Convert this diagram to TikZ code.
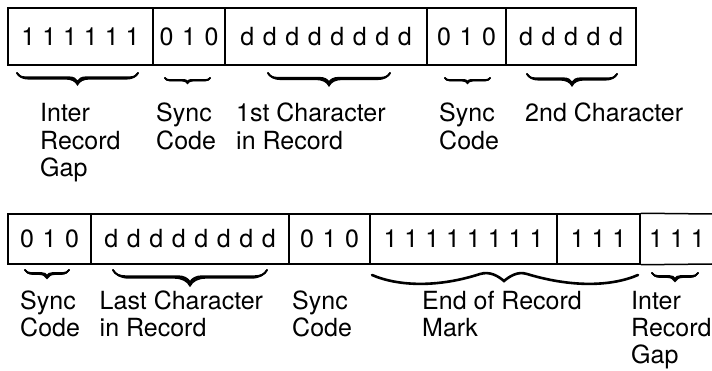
\documentclass[tikz,border=0pt]{standalone}
\usepackage{fontspec}
\setmainfont{TeX Gyre Heros}
\usetikzlibrary{decorations.pathreplacing}
\newcommand\lbl[1]{\begin{tabular}[t]{@{}l@{}}#1\end{tabular}}
\newcommand\widefont{\fontsize{25}{27.5}\selectfont\spaceskip=8.6pt\relax}
% brace from x1 to x2 at height y, amplitude a: three strokes give a heavy, tapered body
\newcommand\tbrace[5]{%
  \draw[brc={#4-#5}] (#2,#3) -- (#1,#3);
  \draw[brc={#4}] (#2,#3) -- (#1,#3);
  \draw[brc={#4+#5}] (#2,#3) -- (#1,#3);
}
\tikzset{
  cell/.style={draw, line width=1.5pt, inner sep=0pt, font=\fontsize{25}{27.5}\selectfont},
  wide/.style={font=\widefont},
  toprow/.style={cell, minimum height=57pt},
  botrow/.style={cell, minimum height=50pt},
  lab/.style={anchor=base west, inner sep=0pt, font=\fontsize{25}{27.5}\selectfont},
  brc/.style={decorate, decoration={brace, amplitude=#1}, line width=1.6pt, line cap=round},
  wavy/.style={line width=2.6pt, line cap=round},
  edge/.style={line width=1.5pt}
}
\begin{document}
\begin{tikzpicture}[x=1pt, y=-1pt]
\useasboundingbox (0,0) rectangle (712,371);
% top row
\node[toprow, minimum width=145pt] (t1) at (80.5,36.5) {1 1 1 1 1 1};
\node[toprow, wide, minimum width=72pt] (t2) at (189,36.5) {0 1 0};
\node[toprow, wide, minimum width=202pt] (t3) at (326,36.5) {d d d d d d d d};
\node[toprow, wide, minimum width=79pt] (t4) at (466.5,36.5) {0 1 0};
\node[toprow, wide, minimum width=130pt] (t5) at (571,36.5) {d d d d d};
% top braces
\tbrace{17}{138}{73}{10}{1.6}
\tbrace{165}{210}{78}{4.5}{0.8}
\tbrace{268}{390}{73}{11}{1.6}
\tbrace{445}{490}{78}{4.5}{0.8}
\tbrace{527}{617}{74}{10}{1.6}
% top labels
\node[lab] (l1) at (40,122) {\lbl{Inter\\Record\\Gap}};
\node[lab] (l2) at (156,122) {\lbl{Sync\\Code}};
\node[lab] (l3) at (236,122) {\lbl{1st Character\\in Record}};
\node[lab] (l4) at (439,122) {\lbl{Sync\\Code}};
\node[lab] (l5) at (525,122) {\lbl{2nd Character}};
% bottom row
\node[botrow, wide, minimum width=83pt] (b1) at (49.5,239) {0 1 0};
\node[botrow, wide, minimum width=198pt] (b2) at (190,239) {d d d d d d d d};
\node[botrow, wide, minimum width=81pt] (b3) at (329.5,239) {0 1 0};
\node[botrow, minimum width=187pt] (b4) at (463.5,239) {1 1 1 1 1 1 1 1};
\node[botrow, minimum width=83pt] (b5) at (598.5,239) {1 1 1};
\node[inner sep=0pt, font=\fontsize{25}{27.5}\selectfont] (b6) at (677,239) {1 1 1};
\coordinate (e1) at (712,214);
\coordinate (e2) at (712,264);
\draw[edge] (b5.north east) -- (e1);
\draw[edge] (b5.south east) -- (e2);
% bottom braces
\tbrace{25}{69}{270}{7}{1.2}
\tbrace{113}{267}{270}{14}{1.8}
\draw[wavy] (372,275) .. controls (400,287) and (440,287) .. (480,274)
  .. controls (490,271) and (498,276) .. (504,281)
  .. controls (510,276) and (518,271) .. (527,274)
  .. controls (570,287) and (610,287) .. (638,275);
\tbrace{652}{698}{273}{7}{1.2}
% bottom labels
\node[lab] (m1) at (20,309) {\lbl{Sync\\Code}};
\node[lab] (m2) at (99.5,309) {\lbl{Last Character\\in Record}};
\node[lab] (m3) at (292,309) {\lbl{Sync\\Code}};
\node[lab] (m4) at (422,309) {\lbl{End of Record\\Mark}};
\node[lab] (m5) at (631,309) {\lbl{Inter\\Record\\Gap}};
\end{tikzpicture}
\end{document}
